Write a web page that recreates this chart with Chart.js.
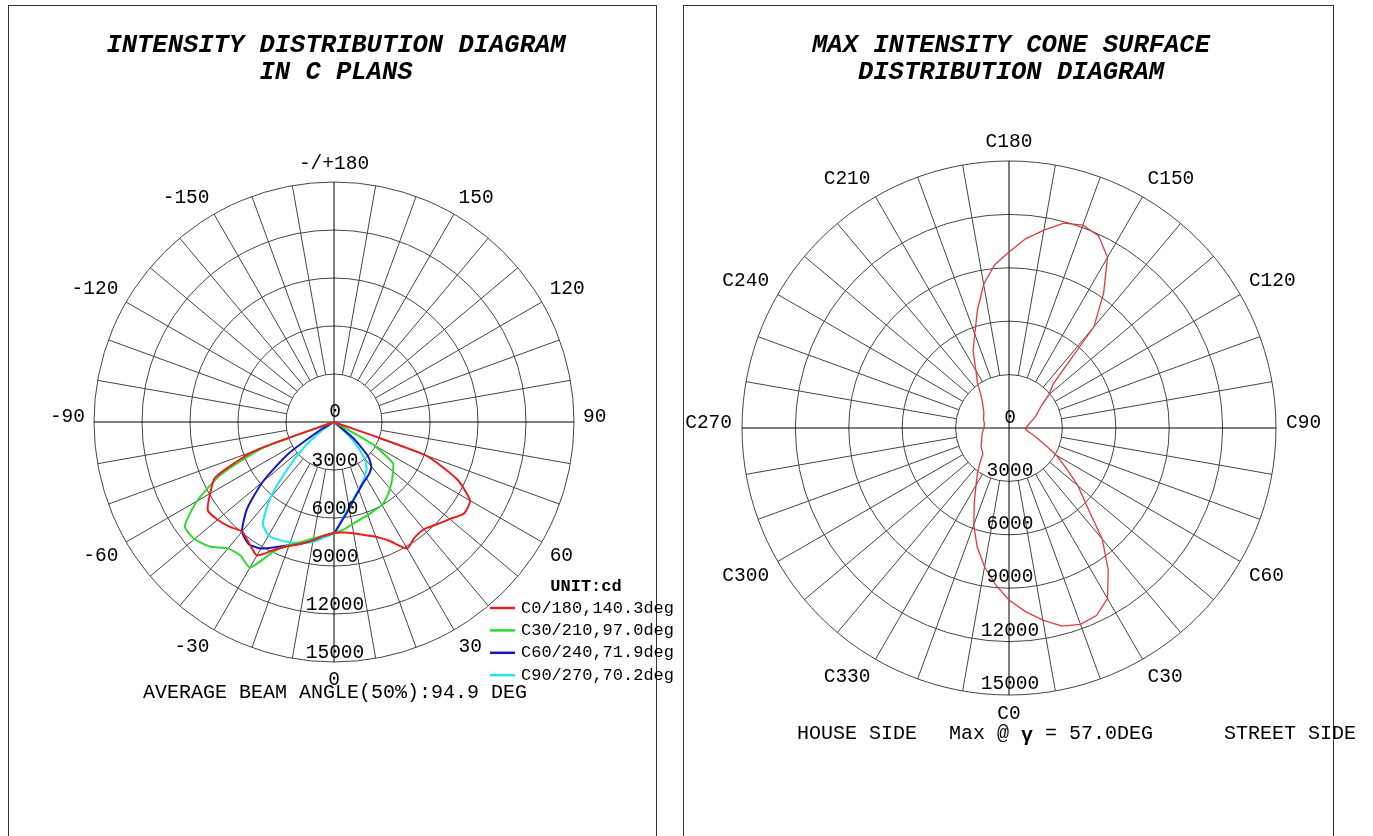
<!DOCTYPE html>
<html>
<head>
<meta charset="utf-8">
<script src="https://cdn.jsdelivr.net/npm/chart.js@4/dist/chart.umd.min.js"></script>
<style>
  body { margin: 0; background: #fff; width: 1373px; height: 836px; overflow: hidden; position: relative; }
  .panel { position: absolute; top: 5px; height: 900px; border: 1px solid #333; box-sizing: border-box; }
  #leftPanel { left: 8px; width: 649px; }
  #rightPanel { left: 683px; width: 651px; }
  canvas { position: absolute; top: 0; }
  #leftChart { left: 0; }
  #rightChart { left: 683px; }
</style>
</head>
<body>
<div class="panel" id="leftPanel"></div>
<div class="panel" id="rightPanel"></div>
<canvas id="leftChart" width="690" height="836"></canvas>
<canvas id="rightChart" width="690" height="836"></canvas>
<script>
const MONO = '"Liberation Mono", "Courier New", monospace';

// gamma (deg) of the C-plane curves; negative = left half of the plane
const gammaAngles = [-90,-85,-80,-75,-70,-65,-60,-55,-50,-45,-40,-35,-30,-25,-20,-15,-10,-5,
    0,5,10,15,20,25,30,35,40,45,50,55,60,65,70,75,80,85,90];

// intensity in cd
const c0_180 = [0,0,0,0,5310,8190,8940,9630,9500,9250,8940,9250,9630,8810,8250,7880,7500,7130,
    6940,6940,7060,7310,7630,8190,9130,8800,8750,9060,9440,9940,9810,8500,6060,0,0,0,0];
const c30_210 = [0,0,0,0,4690,7810,9880,11380,11380,11000,10310,10190,10500,8940,8190,7750,7380,7130,
    6940,6750,6500,6310,6190,6060,6000,5750,5440,5130,4810,4500,2810,0,0,0,0,0,0];
const c60_240 = [0,0,0,0,0,0,940,3560,5810,7690,8940,9310,9130,8630,8190,7880,7500,7130,
    6940,6130,5500,4940,4560,4250,4060,3880,3630,3000,1560,0,0,0,0,0,0,0,0];
const c90_270 = [0,0,0,0,0,0,0,940,2380,4060,6190,7750,8190,8130,8000,7810,7630,7250,
    6940,6060,5380,4880,4500,4190,3880,3560,2940,1880,630,0,0,0,0,0,0,0,0];

const planeNames = ['C0/180,140.3deg', 'C30/210,97.0deg', 'C60/240,71.9deg', 'C90/270,70.2deg'];
const planeColors = ['#ee1c1c', '#2fd92f', '#1616c8', '#1ee8f2'];

// angle ticks, every 30 deg clockwise starting at the bottom
const gammaTicks = ['0','-30','-60','-90','-120','-150','-/+180','150','120','90','60','30'];
const cTicks = ['C0','C330','C300','C270','C240','C210','C180','C150','C120','C90','C60','C30'];

// max intensity per C plane (cd)
const cAngles = [0,5,10,15,20,25,30,35,40,45,50,55,60,65,70,75,80,85,90,95,100,105,110,115,
    120,125,130,135,140,145,150,155,160,165,170,175,180,185,190,195,200,205,210,215,220,225,
    230,235,240,245,250,255,260,265,270,275,280,285,290,295,300,305,310,315,320,325,330,335,340,
    345,350,355];
const maxCone = [9660,10340,10960,11520,11740,11630,11070,9720,8150,6180,5060,3930,3090,2250,1690,
    1350,1070,960,900,1010,1120,1240,1460,1690,1910,2250,2920,3540,7420,9270,11070,11910,12130,
    11910,11290,10670,9890,9210,8200,6850,5620,4780,3710,3090,2470,2130,1910,1740,1630,1570,
    1520,1460,1400,1400,1400,1460,1520,1570,1630,1690,1800,1910,1970,2080,2530,3090,3710,4610,
    5790,6910,7920,8820];

const STEPS = 72; // 5 deg per radar label

// the radar runs clockwise from the bottom, angles here run the other way
function slotOf(angle) {
    return (((-angle / 5) % STEPS) + STEPS) % STEPS;
}

function toSlots(angles, values) {
    const out = new Array(STEPS).fill(null);
    angles.forEach((a, i) => { out[slotOf(a)] = values[i]; });
    return out;
}

function slotLabels(ticks) {
    const labels = [];
    for (let i = 0; i < STEPS; i++)
        labels.push(i % 6 === 0 ? ticks[i / 6] : '');
    return labels;
}

function polarDecor(cfg) {
    return {
        id: 'polarDecor',
        beforeDatasetsDraw(chart) {
            const s = chart.scales.r;
            const ctx = chart.ctx;
            const inner = s.getDistanceFromCenterForValue(3000);
            ctx.save();
            ctx.lineWidth = 1;
            for (let i = 0; i < STEPS; i += 2) {
                const axis = i % 18 === 0;
                const a = s.getPointPosition(i, axis ? 0 : inner);
                const b = s.getPointPosition(i, s.drawingArea);
                ctx.strokeStyle = axis ? '#000' : '#444';
                ctx.beginPath();
                ctx.moveTo(a.x, a.y);
                ctx.lineTo(b.x, b.y);
                ctx.stroke();
            }
            ctx.restore();
        },
        afterDatasetsDraw(chart) {
            const s = chart.scales.r;
            const ctx = chart.ctx;
            ctx.save();
            ctx.fillStyle = '#000';
            ctx.textBaseline = 'middle';
            ctx.textAlign = 'center';

            // ring values
            ctx.font = '19.5px ' + MONO;
            s.ticks.forEach(t => {
                const d = s.getDistanceFromCenterForValue(t.value);
                const y = t.value === 0 ? s.yCenter - 10 : s.yCenter + d - cfg.tickLift;
                ctx.fillText(String(t.value), s.xCenter + 1, y);
            });

            // angle labels round the rim
            chart.data.labels.forEach((txt, i) => {
                if (!txt) return;
                const p = s.getPointPosition(i, s.drawingArea + cfg.labelGap);
                const dx = p.x - s.xCenter;
                const dy = p.y - s.yCenter;
                const len = Math.hypot(dx, dy);
                const cx = dx / len, cy = dy / len;
                const w = ctx.measureText(txt).width;
                let x = p.x, y = p.y;
                if (Math.abs(cx) > 0.1) x += Math.sign(cx) * w / 2;
                if (Math.abs(cy) > 0.1) y += Math.sign(cy) * 9;
                else y -= 5;
                ctx.fillText(txt, x, y);
            });

            // titles
            ctx.font = 'italic bold 25.5px ' + MONO;
            cfg.title.forEach((line, k) => {
                ctx.fillText(line, s.xCenter + 2, 46 + k * 27);
            });

            if (cfg.afterText) cfg.afterText(ctx, s);
            ctx.restore();
        }
    };
}

function polarChart(id, labels, datasets, padding, decor) {
    return new Chart(document.getElementById(id), {
        type: 'radar',
        data: { labels, datasets },
        options: {
            responsive: false,
            animation: false,
            layout: { padding },
            plugins: { legend: { display: false }, tooltip: { enabled: false } },
            elements: { line: { tension: 0, fill: false }, point: { radius: 0, hitRadius: 0 } },
            scales: {
                r: {
                    min: 0,
                    max: 15000,
                    startAngle: 180,
                    ticks: { stepSize: 3000, display: false },
                    grid: { circular: true, color: '#444', lineWidth: 1 },
                    angleLines: { display: false },
                    pointLabels: { display: false }
                }
            }
        },
        plugins: [decor]
    });
}

const planeSeries = [c0_180, c30_210, c60_240, c90_270];

polarChart(
    'leftChart',
    slotLabels(gammaTicks),
    planeSeries.map((vals, k) => ({
        label: planeNames[k],
        data: toSlots(gammaAngles, vals),
        borderColor: planeColors[k],
        borderWidth: 2,
        tension: 0.2,
        spanGaps: false
    })),
    { left: 94, right: 116, top: 182, bottom: 174 },
    polarDecor({
        tickLift: 9,
        labelGap: 9,
        title: ['INTENSITY DISTRIBUTION DIAGRAM', 'IN C PLANS'],
        afterText(ctx, s) {
            ctx.font = '20px ' + MONO;
            ctx.fillText('AVERAGE BEAM ANGLE(50%):94.9 DEG', s.xCenter + 1, 693);

            ctx.font = 'bold 17px ' + MONO;
            ctx.fillText('UNIT:cd', 586, 587);
            ctx.font = '17px ' + MONO;
            ctx.textAlign = 'left';
            planeNames.forEach((name, k) => {
                const y = 608 + k * 22.4;
                ctx.strokeStyle = planeColors[k];
                ctx.lineWidth = 2.5;
                ctx.beginPath();
                ctx.moveTo(490, y);
                ctx.lineTo(515, y);
                ctx.stroke();
                ctx.fillText(name, 521, y);
            });
        }
    })
);

polarChart(
    'rightChart',
    slotLabels(cTicks),
    [{
        label: 'Max',
        data: toSlots(cAngles, maxCone),
        borderColor: '#e8383d',
        borderWidth: 1.3
    }],
    { left: 59, right: 97, top: 161, bottom: 141 },
    polarDecor({
        tickLift: 11,
        labelGap: 10,
        title: ['MAX INTENSITY CONE SURFACE', 'DISTRIBUTION DIAGRAM'],
        afterText(ctx, s) {
            ctx.textAlign = 'left';
            ctx.font = '20px ' + MONO;
            ctx.fillText('HOUSE SIDE', 114, 734);
            ctx.fillText('STREET SIDE', 541, 734);
            let x = 266;
            ctx.fillText('Max @ ', x, 734);
            x += ctx.measureText('Max @ ').width;
            ctx.font = 'bold 20px ' + MONO;
            ctx.fillText('\u03b3', x, 736);
            x += ctx.measureText('\u03b3').width;
            ctx.font = '20px ' + MONO;
            ctx.fillText(' = 57.0DEG', x, 734);
        }
    })
);
</script>
</body>
</html>
